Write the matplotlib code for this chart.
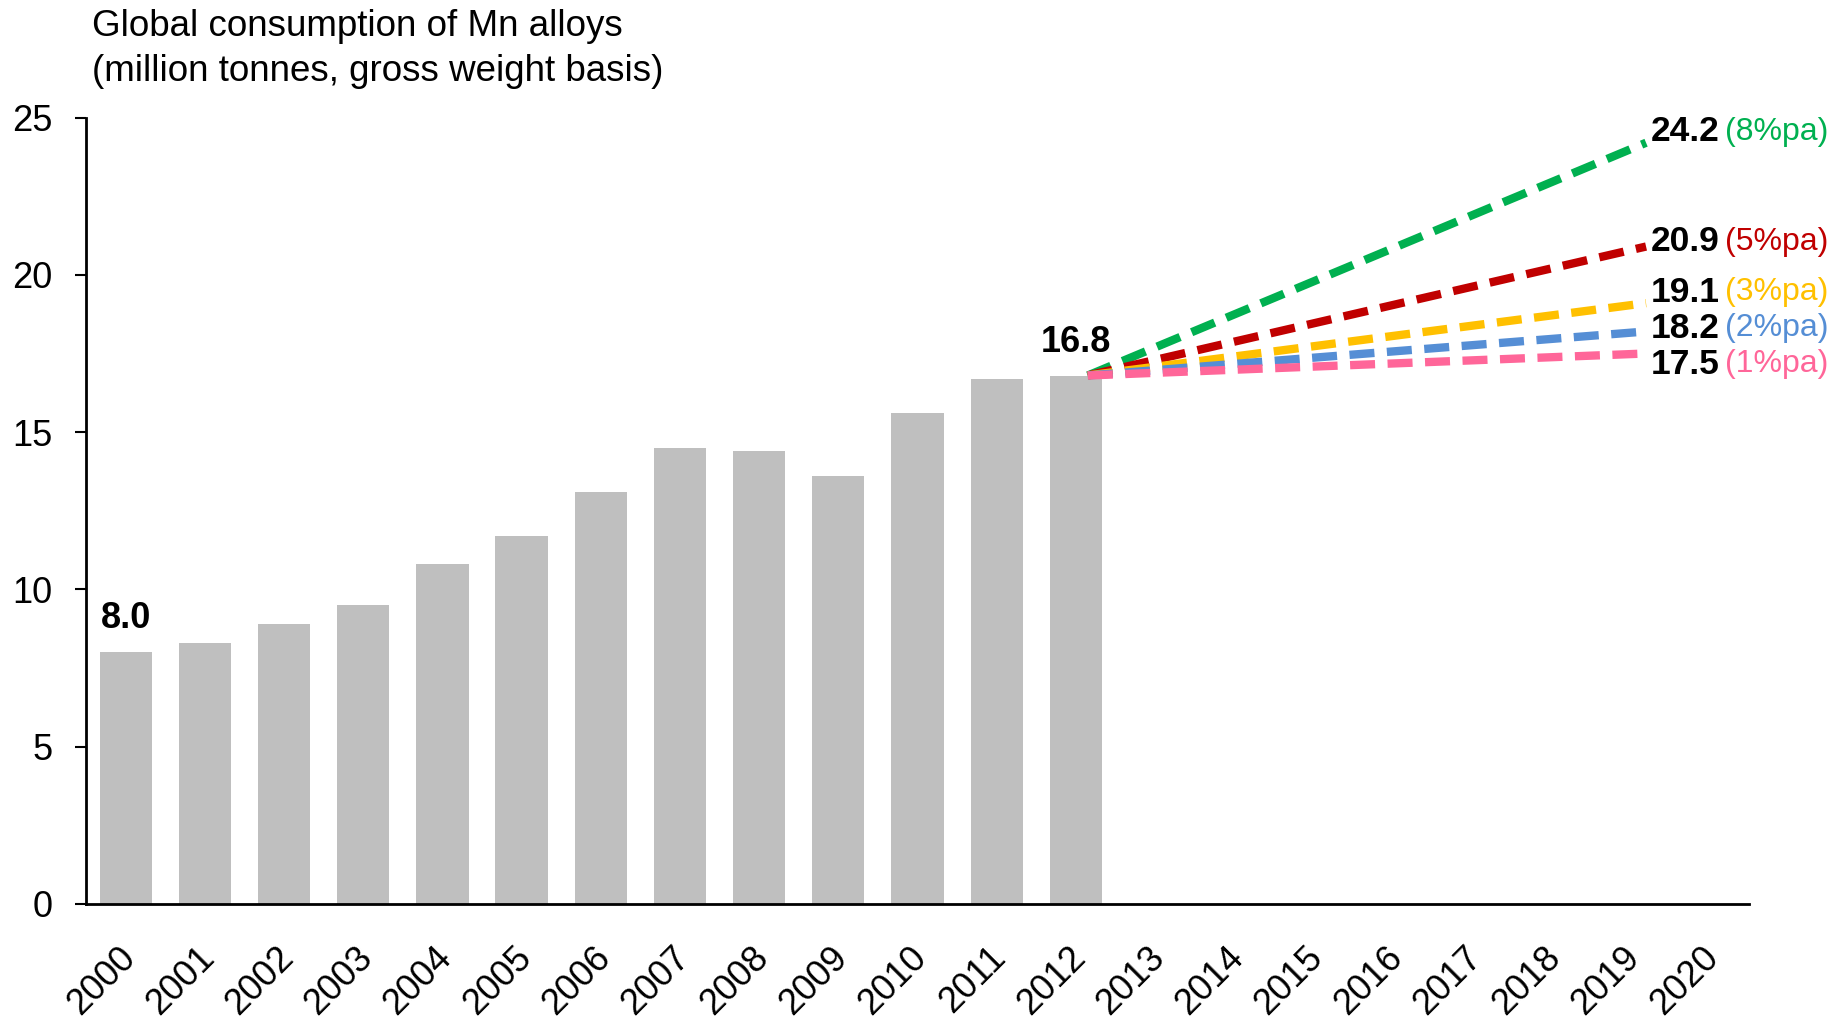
import matplotlib
matplotlib.use("Agg")
import matplotlib.pyplot as plt
import matplotlib.transforms as mtransforms
import numpy as np

# Years on the category axis and historical consumption (million tonnes)
years = [str(y) for y in range(2000, 2021)]
consumption = [8.0, 8.3, 8.9, 9.5, 10.8, 11.7, 13.1, 14.5, 14.4, 13.6, 15.6, 16.7, 16.8]

# Growth scenarios: annual rate label and projected consumption
scenario_rates = ["8%pa", "5%pa", "3%pa", "2%pa", "1%pa"]
scenario_values = [24.2, 20.9, 19.1, 18.2, 17.5]
scenario_colors = ["#00B050", "#C00000", "#FFC000", "#558ED5", "#FF6699"]

plt.rcParams["font.family"] = ["Liberation Sans", "DejaVu Sans"]

fig = plt.figure(figsize=(18.43, 10.24), dpi=100)
ax = fig.add_axes([0.0467, 0.1172, 0.9023, 0.768])

x = np.arange(len(years))
n_hist = len(consumption)
ax.bar(x[:n_hist], consumption, width=0.66, color="#BFBFBF", zorder=2)

ax.set_xlim(-0.5, len(years) - 0.5)
ax.set_ylim(0, 25)
ax.set_yticks([0, 5, 10, 15, 20, 25])
ax.set_xticks(x)
ax.set_xticklabels(years, rotation=45, ha="right", va="center",
                   rotation_mode="anchor")
ax.tick_params(axis="x", length=0, pad=35, labelsize=26)
ax.tick_params(axis="y", length=8, width=1.5, pad=16, labelsize=26)
shift = mtransforms.ScaledTranslation(3 / 72, 0, fig.dpi_scale_trans)
for lbl in ax.get_xticklabels():
    lbl.set_transform(lbl.get_transform() + shift)
for side in ["top", "right"]:
    ax.spines[side].set_visible(False)
for side in ["left", "bottom"]:
    ax.spines[side].set_linewidth(2)

# Value labels on the first and last historical bars
for i in (0, n_hist - 1):
    ax.annotate(f"{consumption[i]:.1f}", (x[i], consumption[i]),
                xytext=(0, 24), textcoords="offset points",
                ha="center", va="center", fontsize=26, fontweight="bold")

# Projection lines from the last actual year
base = consumption[-1]
x_start = x[n_hist - 1] + 0.15
x_end = 19.2
label_shift = [0.35, 0.15, 0.35, 0.1, -0.35]
for val, rate, col, dy in zip(scenario_values, scenario_rates,
                              scenario_colors, label_shift):
    ax.plot([x_start, x_end], [base, val], color=col, lw=6,
            dashes=(3.0, 1.5), dash_capstyle="butt", zorder=3)
    t = ax.text(x_end + 0.06, val + dy, f"{val:.1f}", ha="left", va="center",
                fontsize=25.5, fontweight="bold", zorder=4)
    ax.annotate(f"({rate})", xy=(1, 0.5), xycoords=t, xytext=(4, 0),
                textcoords="offset points", ha="left", va="center",
                fontsize=23, color=col)

fig.text(0.0499, 0.991,
         "Global consumption of Mn alloys\n(million tonnes, gross weight basis)",
         ha="left", va="top", fontsize=26.5, linespacing=1.38)

fig.savefig("out.png", dpi=100)
